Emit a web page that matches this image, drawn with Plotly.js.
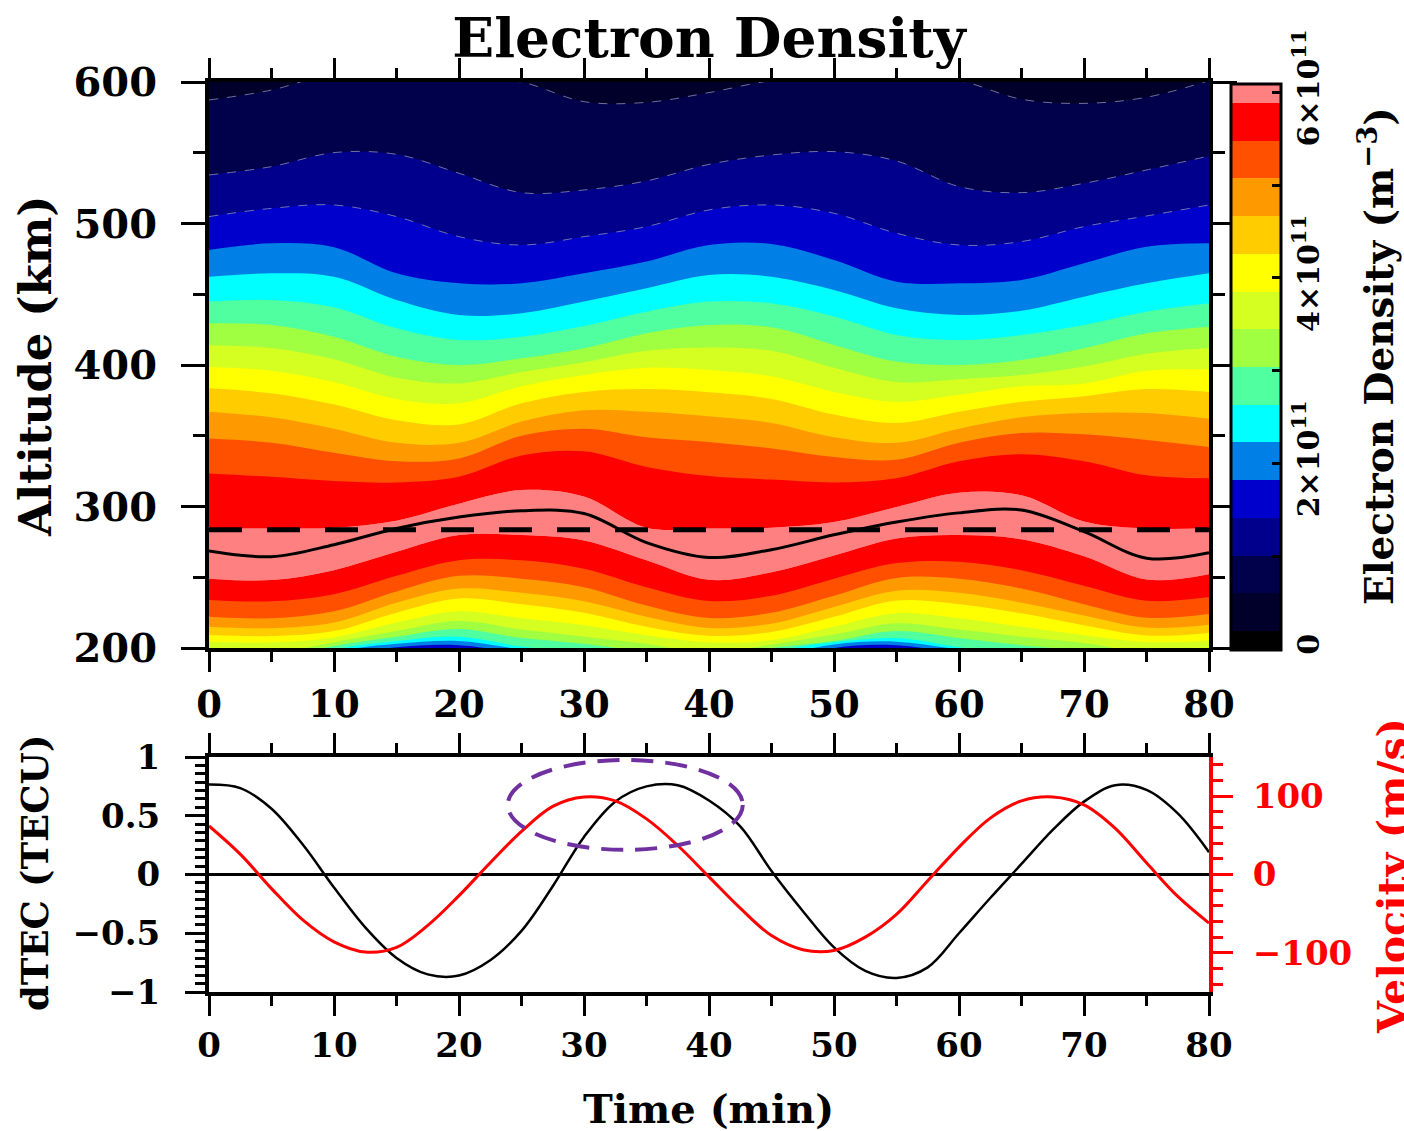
<!DOCTYPE html>
<html>
<head>
<meta charset="utf-8">
<script src="https://cdn.plot.ly/plotly-3.0.1.min.js"></script>
<style>html,body{margin:0;padding:0;background:#fff;}#chart{width:1404px;height:1131px;}</style>
</head>
<body>
<div id="chart"></div>
<script>
// ---------------- DATA ----------------
// time columns (min)
const times = [0,5,10,15,20,25,30,35,40,45,50,55,60,65,70,75,80];
// contour levels of electron density, in 1e11 m^-3
const levelStart = 0.19;
const levelStep = 0.407;
const levelCount = 15;
// F2 peak height (km) — the solid black line
const hmF2 = [268.5,264.5,273,284.5,292.5,297,295,274.5,264,269.5,280,289,295.5,297.5,282.2,263.5,267.3];
// altitude (km) where the density crosses each contour level, topside (above the peak);
// values beyond 600 km are estimates of the hidden part of the line
const top060 = [587.3,594.3,606,606,604,600,586.1,585.6,592.5,601,604,604,601,587.8,584.9,589.2,601];
const top100 = [534.3,540.2,550.1,548.9,535.5,521.8,523.7,530.1,541.8,548.4,550.8,544.2,526.1,521.8,528.4,537.8,547.7];
const top141 = [504.9,510.7,513.1,504.9,490.7,484.8,490.7,497.8,509.6,513.1,507.2,493.1,484.8,487.2,497.8,505.3,513.1];
const top182 = [481.3,486.0,483.2,464.8,457.7,457.7,464.8,473.1,484.8,485.5,474.2,458.9,457.7,460.1,471.9,483.6,486.0];
const top223 = [462.4,464.8,462.4,446.0,435.4,436.5,444.8,454.2,463.6,462.4,453.0,440.1,435.4,438.4,448.3,457.7,464.8];
const top263 = [444.8,446.0,440.8,425.9,417.7,420.0,427.6,437.7,444.8,443.6,434.2,421.2,417.7,421.2,428.3,437.7,443.6];
const top304 = [429.5,428.3,420.0,405.9,400.0,404.7,411.8,422.4,428.3,426.6,414.2,402.4,400.0,403.5,411.8,422.4,427.1];
const top345 = [414,412,404,391,387,395,402,410,412.4,410,398,388,390,393,399,408,412];
const top385 = [398.6,396,388,376,373,385,393,398,396.5,392,381,374,379,385,387,396,397];
const top426 = [383.5,380,372,361,358,373,381,383,380.7,376,365,359,367,374,378,383,381];
const top467 = [367,363,355,345,345,360,368,367,363.8,359,349,345,355,363,366,366,362];
const top507 = [348,345,338,332,334,350,355,349,345.6,341,335,333,345,352,351,347,342];
const top548 = [323.4,321,318,317,321,336,339,328,321.5,319,317,320,332,337,332,322,320];
const top589 = [284.5,284.5,285,290,302,311.6,307,285,284.5,285,289,299.6,309.7,307.9,289.4,284.5,284.8];
// bottomside (below the peak); values under 200 km are estimates of the hidden part
const bot589 = [249,248,255,268,279.8,279.8,276,262,248.2,253.6,265.4,277.4,279.8,276.8,264.8,248.4,252.2];
const bot548 = [234,233,238,251,262,262,256,243,233.2,237,249,260,261,255,244,233.4,236];
const bot507 = [222,221,226,240,251,249,243,230,221.2,225,237,249.5,249,242,231,221.4,224];
const bot467 = [215,214,218,232,242,239,233,222,214.2,217.2,229,240.5,239,232,223,214.4,216.4];
const bot426 = [209.2,208.5,212,225,235,231,225,215,208.6,211.3,222,233.5,231,224.5,216,208.8,210.6];
const bot385 = [204.4,204,207.5,218,226,221,216,209,204.1,205.6,215,224.5,221,215,209,204.2,205.2];
const bot345 = [197,196.5,204,212,219,213,208,203,196.5,202.5,209.5,217.5,213,208,203.5,197,199];
const bot304 = [193,192,201.5,208,213.5,207,203,197,192,200,205,212,207,202,198,193,195];
const bot263 = [188,187,199,205,208,201,196,192,187,197.5,204,207,200.5,195,192,188,190];
const bot223 = [183,182,197,203,205,199,194,188,182,193,202.5,204.5,199,193,188,183,185];
const bot182 = [178,177,193,200.5,202,196,190,184,177,187,200,202,196,190,184,178,180];
// reference altitude (dashed line), km
const refAltitude = 283.5;

// lower panel: dTEC (TECU) and velocity (m/s), every 2.5 min
const timesFine = [0,2.5,5,7.5,10,12.5,15,17.5,20,22.5,25,27.5,30,32.5,35,37.5,40,42.5,45,47.5,50,52.5,55,57.5,60,62.5,65,67.5,70,72.5,75,77.5,80];
const dTEC = [0.765,0.735,0.56,0.255,-0.11,-0.45,-0.71,-0.85,-0.86,-0.73,-0.48,-0.10,0.32,0.62,0.75,0.76,0.63,0.41,0.03,-0.31,-0.62,-0.82,-0.88,-0.79,-0.50,-0.20,0.09,0.38,0.62,0.76,0.72,0.52,0.19];
const velocity = [62,26,-18,-58,-86,-99,-93,-65,-27,15,55,87,99,94,71,37,-3,-43,-78,-96,-97,-80,-51,-8,35,72,94,99,89,59,15,-28,-62];

// colorbar labels
const cbTickVals = [0,1,2,3,4,5,6];
const cbTickText = ['0','','2×10<sup>11</sup>','','4×10<sup>11</sup>','','6×10<sup>11</sup>'];
// band colours from lowest to highest density
const bandColors = ['#000000','#00002A','#00004B','#00008C','#0000CC','#0080E6','#00FFFF','#50FFA0',
  '#A0FF40','#D4FF20','#FFFF00','#FFCC00','#FF9900','#FF5000','#FF0000','#FF8080'];

// ---------------- figure ----------------
const W = 1404, H = 1131;
const px = v => v / W, py = v => 1 - v / H;
const FONT = 'DejaVu Serif';
const bold = (size, color) => ({family: FONT, size: size, color: color || 'black', weight: 'bold'});
const altRange = [200, 600];
const ceiling = times.map(() => altRange[1] + 40);
const floorLine = times.map(() => altRange[0] - 40);
const faint = {color: 'rgba(150,150,180,0.75)', width: 1, dash: 'dash', shape: 'spline'};
const noLine = {width: 0, shape: 'spline'};

const nb = bandColors.length;
const stepScale = [];
bandColors.forEach((c, i) => { stepScale.push([i / nb, c]); stepScale.push([(i + 1) / nb, c]); });

const traces = [];
// colour scale holder (draws nothing inside the axis range, carries the colour bar)
traces.push({
  type: 'contour', x: [-20, -10], y: altRange, z: [[0, 6e11], [0, 6e11]], xaxis: 'x', yaxis: 'y',
  autocontour: false,
  contours: {start: levelStart * 1e11, end: (levelStart + levelStep * (levelCount - 1)) * 1e11, size: levelStep * 1e11, coloring: 'fill', showlines: false},
  line: {width: 0}, colorscale: stepScale, hoverinfo: 'skip',
  colorbar: {
    x: px(1231), xanchor: 'left', y: py(367), yanchor: 'middle',
    len: 566, lenmode: 'pixels', thickness: 50, thicknessmode: 'pixels',
    xpad: 0, ypad: 0, outlinewidth: 3, outlinecolor: 'black',
    tickvals: cbTickVals.map(v => v * 1e11), ticktext: cbTickText,
    ticks: 'inside', ticklen: 10, tickwidth: 3, tickcolor: 'black',
    tickangle: -90, tickfont: bold(30)
  }
});
// peak band (above the highest contour level)
traces.push({type: 'scatter', mode: 'lines', x: times, y: bot589, line: noLine, xaxis: 'x', yaxis: 'y', hoverinfo: 'skip'});
traces.push({type: 'scatter', mode: 'lines', x: times, y: top589, line: noLine, fill: 'tonexty', fillcolor: bandColors[15], xaxis: 'x', yaxis: 'y', hoverinfo: 'skip'});
// topside bands: area above each contour line gets the colour of the band above it
const topSeries = [[14,top589],[13,top548],[12,top507],[11,top467],[10,top426],[9,top385],[8,top345],[7,top304],[6,top263],[5,top223],[4,top182],[3,top141],[2,top100],[1,top060]];
topSeries.forEach(([k, arr]) => {
  traces.push({type: 'scatter', mode: 'lines', x: times, y: ceiling, line: {width: 0}, xaxis: 'x', yaxis: 'y', hoverinfo: 'skip'});
  traces.push({type: 'scatter', mode: 'lines', x: times, y: arr, line: k <= 3 ? faint : noLine,
    fill: 'tonexty', fillcolor: bandColors[k], xaxis: 'x', yaxis: 'y', hoverinfo: 'skip'});
});
// bottomside bands: area below each contour line
const botSeries = [[14,bot589],[13,bot548],[12,bot507],[11,bot467],[10,bot426],[9,bot385],[8,bot345],[7,bot304],[6,bot263],[5,bot223],[4,bot182]];
botSeries.forEach(([k, arr]) => {
  traces.push({type: 'scatter', mode: 'lines', x: times, y: floorLine, line: {width: 0}, xaxis: 'x', yaxis: 'y', hoverinfo: 'skip'});
  traces.push({type: 'scatter', mode: 'lines', x: times, y: arr, line: noLine,
    fill: 'tonexty', fillcolor: bandColors[k], xaxis: 'x', yaxis: 'y', hoverinfo: 'skip'});
});
// dashed reference altitude and peak height line
traces.push({type: 'scatter', mode: 'lines', x: [times[0], times[times.length - 1]], y: [refAltitude, refAltitude],
  xaxis: 'x', yaxis: 'y', line: {color: 'black', width: 5, dash: '33px,25px'}, hoverinfo: 'skip'});
traces.push({type: 'scatter', mode: 'lines', x: times, y: hmF2, xaxis: 'x', yaxis: 'y',
  line: {color: 'black', width: 3, shape: 'spline', smoothing: 1}, hoverinfo: 'skip'});
// lower panel
traces.push({type: 'scatter', mode: 'lines', x: timesFine, y: dTEC, xaxis: 'x2', yaxis: 'y2',
  line: {color: 'black', width: 2.5, shape: 'spline', smoothing: 1}});
traces.push({type: 'scatter', mode: 'lines', x: timesFine, y: velocity, xaxis: 'x2', yaxis: 'y3',
  line: {color: '#FF0000', width: 3, shape: 'spline', smoothing: 1}});

const axisCommon = {
  showgrid: false, zeroline: false, showline: true, linewidth: 4, linecolor: 'black',
  ticks: 'outside', tickwidth: 3, tickcolor: 'black'
};

const layout = {
  width: W, height: H,
  margin: {l: 0, r: 0, t: 0, b: 0},
  paper_bgcolor: 'white', plot_bgcolor: 'white',
  font: {family: FONT, color: 'black'},
  showlegend: false,
  title: {text: 'Electron Density', x: px(709), xanchor: 'center', xref: 'paper',
          y: py(38), yanchor: 'middle', yref: 'container', font: bold(55)},
  xaxis: Object.assign({}, axisCommon, {
    domain: [px(209), px(1209)], anchor: 'y', range: [0, 80], tick0: 0, dtick: 10,
    ticklen: 20, mirror: 'ticks', tickfont: bold(37), ticklabelstandoff: 1,
    minor: {dtick: 5, ticklen: 10, tickwidth: 3, tickcolor: 'black', ticks: 'outside'}
  }),
  yaxis: Object.assign({}, axisCommon, {
    domain: [py(648), py(82)], anchor: 'x', range: altRange, tick0: 200, dtick: 100,
    ticklen: 24, mirror: 'ticks', tickfont: bold(40), ticklabelstandoff: 16,
    minor: {dtick: 50, ticklen: 12, tickwidth: 3, tickcolor: 'black', ticks: 'outside'}
  }),
  xaxis2: Object.assign({}, axisCommon, {
    domain: [px(209), px(1209)], anchor: 'y2', range: [0, 80], tick0: 0, dtick: 10,
    ticklen: 20, mirror: 'ticks', tickfont: bold(34), ticklabelstandoff: 0,
    minor: {dtick: 5, ticklen: 10, tickwidth: 3, tickcolor: 'black', ticks: 'outside'}
  }),
  yaxis2: Object.assign({}, axisCommon, {
    domain: [py(992), py(757)], anchor: 'x2', range: [-1, 1], tick0: 0, dtick: 0.5,
    ticklen: 20, mirror: false, tickfont: bold(34), ticklabelstandoff: 18,
    zeroline: true, zerolinewidth: 3.5, zerolinecolor: 'black',
    minor: {dtick: 0.5 / 7, ticklen: 10, tickwidth: 3, tickcolor: 'black', ticks: 'outside'}
  }),
  yaxis3: {
    overlaying: 'y2', anchor: 'x2', side: 'right', range: [-150, 150], tick0: 0, dtick: 100,
    showgrid: false, zeroline: false, showline: true, linewidth: 4, linecolor: '#FF0000',
    ticks: 'outside', ticklen: 20, tickwidth: 3, tickcolor: '#FF0000',
    tickfont: bold(34, '#FF0000'), ticklabelstandoff: 13,
    minor: {dtick: 20, ticklen: 10, tickwidth: 3, tickcolor: '#FF0000', ticks: 'outside'}
  },
  shapes: [
    {type: 'circle', xref: 'x2', yref: 'y2', x0: 23.9, x1: 42.7, y0: 0.21, y1: 0.975,
     line: {color: '#7030A0', width: 4, dash: '22px,12px'}}
  ],
  annotations: [
    {text: 'Altitude (km)', xref: 'paper', yref: 'paper', x: px(35), y: py(366), textangle: -90,
     showarrow: false, xanchor: 'center', yanchor: 'middle', font: bold(45)},
    {text: 'dTEC (TECU)', xref: 'paper', yref: 'paper', x: px(35), y: py(873), textangle: -90,
     showarrow: false, xanchor: 'center', yanchor: 'middle', font: bold(37)},
    {text: 'Time (min)', xref: 'paper', yref: 'paper', x: px(709), y: py(1108),
     showarrow: false, xanchor: 'center', yanchor: 'middle', font: bold(40)},
    {text: 'Velocity (m/s)', xref: 'paper', yref: 'paper', x: px(1393), y: py(876), textangle: -90,
     showarrow: false, xanchor: 'center', yanchor: 'middle', font: bold(41, '#FF0000')},
    {text: 'Electron Density (m<sup>−3</sup>)', xref: 'paper', yref: 'paper', x: px(1377), y: py(356), textangle: -90,
     showarrow: false, xanchor: 'center', yanchor: 'middle', font: bold(39)}
  ]
};

Plotly.newPlot('chart', traces, layout, {staticPlot: true, displayModeBar: false});
</script>
</body>
</html>
